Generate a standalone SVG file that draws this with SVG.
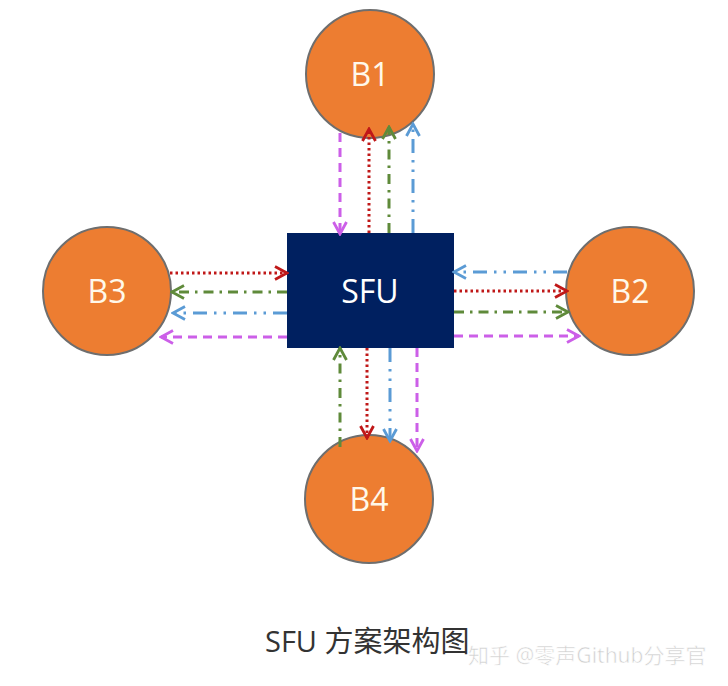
<svg xmlns="http://www.w3.org/2000/svg" width="728" height="686" viewBox="0 0 728 686">
<style>
.bub{fill:#ed7d31;stroke:#6e6e6e;stroke-width:2}
.lbl{font-family:"Open Sans","Noto Sans","Liberation Sans",sans-serif;font-size:32px;fill:#fff8ea;text-anchor:middle}
.c{fill:none;stroke-width:3}
.mg{stroke:#cc5fe8;stroke-dasharray:9 6}
.rd{stroke:#c01818;stroke-dasharray:2.5 3}
.gr{stroke:#5f8a3a;stroke-dasharray:10 6 2.5 6}
.bl{stroke:#5b9bd5;stroke-dasharray:14 7 2.5 7 2.5 7}
</style>
<defs>
<marker id="am" viewBox="0 0 16 16" refX="14" refY="8" markerWidth="16" markerHeight="16" markerUnits="userSpaceOnUse" orient="auto"><path d="M2,1.5 L14,8 L2,14.5" fill="none" stroke="#cc5fe8" stroke-width="2.8"/></marker>
<marker id="ar" viewBox="0 0 16 16" refX="14" refY="8" markerWidth="16" markerHeight="16" markerUnits="userSpaceOnUse" orient="auto"><path d="M2,1.5 L14,8 L2,14.5" fill="none" stroke="#c01818" stroke-width="2.8"/></marker>
<marker id="ag" viewBox="0 0 16 16" refX="14" refY="8" markerWidth="16" markerHeight="16" markerUnits="userSpaceOnUse" orient="auto"><path d="M2,1.5 L14,8 L2,14.5" fill="none" stroke="#5f8a3a" stroke-width="2.8"/></marker>
<marker id="ab" viewBox="0 0 16 16" refX="14" refY="8" markerWidth="16" markerHeight="16" markerUnits="userSpaceOnUse" orient="auto"><path d="M2,1.5 L14,8 L2,14.5" fill="none" stroke="#5b9bd5" stroke-width="2.8"/></marker>
</defs>
<rect width="728" height="686" fill="#ffffff"/>
<g id="B1"><circle class="bub" cx="370" cy="74" r="64"/><text class="lbl" x="370" y="86">B1</text></g>
<g id="B2"><circle class="bub" cx="630" cy="291" r="64"/><text class="lbl" x="630" y="303">B2</text></g>
<g id="B3"><circle class="bub" cx="107" cy="291" r="64"/><text class="lbl" x="107" y="303">B3</text></g>
<g id="B4"><circle class="bub" cx="369" cy="499" r="64"/><text class="lbl" x="369" y="511">B4</text></g>
<g id="SFU"><rect x="287" y="233" width="167" height="115" fill="#002060"/><text x="370" y="303" font-family="'Open Sans','Noto Sans','Liberation Sans',sans-serif" font-size="32" fill="#ffffff" text-anchor="middle">SFU</text></g>
<g id="connectors">
<line class="c mg" x1="340" y1="133" x2="340" y2="234" marker-end="url(#am)"/>
<line class="c rd" x1="369" y1="233" x2="369" y2="129" marker-end="url(#ar)"/>
<line class="c gr" x1="389" y1="233" x2="389" y2="127" marker-end="url(#ag)"/>
<line class="c bl" x1="413" y1="233" x2="413" y2="124" marker-end="url(#ab)"/>
<line class="c rd" x1="170" y1="273" x2="287" y2="273" marker-end="url(#ar)"/>
<line class="c gr" x1="287" y1="292" x2="172" y2="292" marker-end="url(#ag)"/>
<line class="c bl" x1="287" y1="313" x2="173" y2="313" marker-end="url(#ab)"/>
<line class="c mg" x1="287" y1="337" x2="161" y2="337" marker-end="url(#am)"/>
<line class="c bl" x1="567" y1="272" x2="454" y2="272" marker-end="url(#ab)"/>
<line class="c rd" x1="454" y1="291" x2="567" y2="291" marker-end="url(#ar)"/>
<line class="c gr" x1="454" y1="312" x2="568" y2="312" marker-end="url(#ag)"/>
<line class="c mg" x1="454" y1="336" x2="579" y2="336" marker-end="url(#am)"/>
<line class="c gr" x1="340" y1="447" x2="340" y2="348" marker-end="url(#ag)"/>
<line class="c rd" x1="367" y1="348" x2="367" y2="438" marker-end="url(#ar)"/>
<line class="c bl" x1="390" y1="348" x2="390" y2="441" marker-end="url(#ab)"/>
<line class="c mg" x1="417" y1="348" x2="417" y2="451" marker-end="url(#am)"/>
</g>
<text x="265" y="652" font-family="'Open Sans','Noto Sans','Noto Sans CJK SC',sans-serif" font-size="29" fill="#333333">SFU 方案架构图</text>
<text x="468" y="663" font-family="'Noto Sans','Noto Sans CJK SC',sans-serif" font-size="21" fill="#cfcfcf" stroke="#ffffff" stroke-width="0.6">知乎 @零声Github分享官</text>
</svg>
